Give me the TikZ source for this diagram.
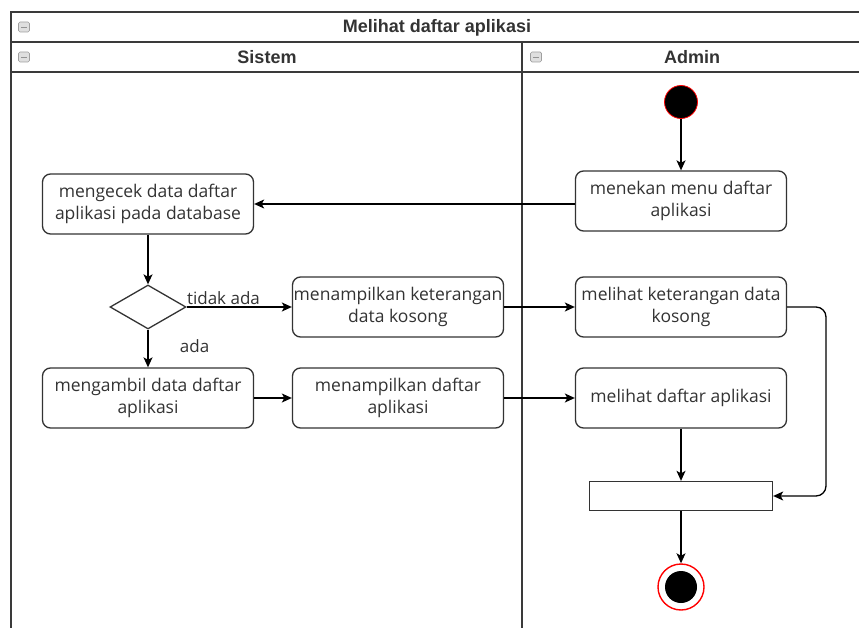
\documentclass[tikz,border=0pt]{standalone}
\usepackage{fontspec}
\setmainfont{Open Sans}
\newfontfamily\headfont{Liberation Sans}
\usetikzlibrary{arrows.meta,shapes.geometric}
\definecolor{ink}{HTML}{333333}
\definecolor{frameink}{HTML}{3A3A3A}
\begin{document}
\begin{tikzpicture}[x=1pt,y=-1pt,
  act/.style={draw=ink, line width=1.3pt, rounded corners=8pt, fill=white,
    minimum width=211pt, minimum height=60pt, align=center, text=ink,
    inner xsep=1pt, font=\fontsize{17.5}{22}\selectfont},
  dec/.style={draw=ink, line width=1.3pt, diamond, aspect=1.73,
    minimum width=76pt, minimum height=44pt, inner sep=0pt},
  joinbar/.style={draw=ink, line width=1.3pt, fill=white,
    minimum width=183pt, minimum height=29pt, inner sep=0pt},
  flow/.style={draw=black, line width=1.3pt,
    -{Stealth[length=10pt,width=9pt,inset=2.5pt]}},
  lbl/.style={text=ink, font=\fontsize{17}{20}\selectfont},
  hdr/.style={text=ink, font=\headfont\bfseries\fontsize{18}{21}\selectfont},
  frameline/.style={draw=frameink, line width=1.8pt},
  fold/.style={draw=gray!75, fill=gray!25, line width=0.7pt, rounded corners=1.5pt,
    minimum width=11pt, minimum height=10pt, inner sep=0pt}
]
\useasboundingbox (0,0) rectangle (859,628);

% pool frame and lanes
\draw[frameline] (859,12) -- (11,12) -- (11,628);
\draw[frameline] (11,42) -- (859,42);
\draw[frameline] (11,72) -- (859,72);
\draw[frameline] (522,42) -- (522,628);

% collapse markers
\node[fold] (fold0) at (24,27) {};
\node[fold] (fold1) at (24,57) {};
\node[fold] (fold2) at (536,57) {};
\foreach \f in {fold0,fold1,fold2}
  \draw[gray!85, line width=0.9pt] ([xshift=-3pt]\f.center) -- ([xshift=3pt]\f.center);

% headers
\node[hdr] (title) at (437,28) {Melihat daftar aplikasi};
\node[hdr] (laneS) at (267,57) {Sistem};
\node[hdr] (laneA) at (692,57) {Admin};

% start and end
\node[circle, fill=black, draw=red, line width=0.8pt, minimum size=33pt, inner sep=0pt] (start) at (681,102) {};
\node[circle, draw=red, line width=1.4pt, fill=white, minimum size=46pt, inner sep=0pt] (stop) at (681,587) {};
\node[circle, fill=black, minimum size=32pt, inner sep=0pt] (stopdot) at (681,587) {};

% activities
\node[act] (a1) at (681,201) {menekan menu daftar\\aplikasi};
\node[act] (s1) at (148,204) {mengecek data daftar\\aplikasi pada database};
\node[dec] (d1) at (148,307) {};
\node[act] (s2) at (398,307) {menampilkan keterangan\\data kosong};
\node[act] (a2) at (681,307) {melihat keterangan data\\kosong};
\node[act] (s3) at (148,398) {mengambil data daftar\\aplikasi};
\node[act] (s4) at (398,398) {menampilkan daftar\\aplikasi};
\node[act] (a3) at (681,398) {melihat daftar aplikasi};
\node[joinbar] (bar) at (681,496) {};

% flows
\draw[flow] (start) -- (a1);
\draw[flow] (a1.west |- s1.east) -- (s1.east);
\draw[flow] (s1) -- (d1);
\draw[flow] (d1.east) -- (s2.west) node[lbl, pos=0.35, above=-2pt] (lno) {tidak ada};
\draw[flow] (d1.south) -- (s3.north) node[lbl, pos=0.45, right=28pt] (lyes) {ada};
\draw[flow] (s2) -- (a2);
\draw[flow] (s3) -- (s4);
\draw[flow] (s4) -- (a3);
\draw[flow] (a3) -- (bar);
\draw[flow, rounded corners=10pt] (a2.east) -- (826,307) -- (826,496) -- (bar.east);
\draw[flow] (bar) -- (stop);
\end{tikzpicture}
\end{document}
